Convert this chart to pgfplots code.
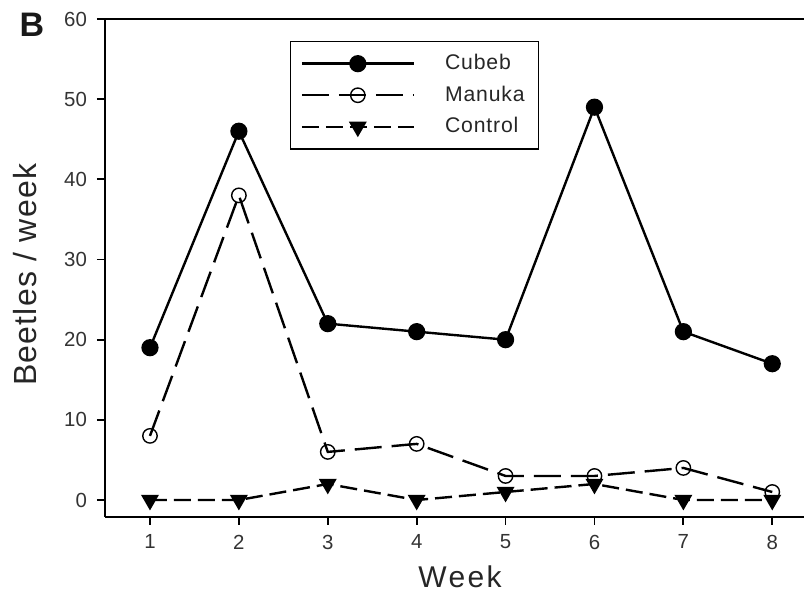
\documentclass[border=0pt]{standalone}
\usepackage{pgfplots}
\pgfplotsset{compat=1.18}
\usepackage{fontspec}
\setmainfont{Liberation Sans}
\setsansfont{Liberation Sans}
\newfontfamily\xlabfont[LetterSpace=8]{Liberation Sans}
\newfontfamily\ylabfont[LetterSpace=4]{Liberation Sans}
\newfontfamily\legfont[LetterSpace=4]{Liberation Sans}
\begin{document}
\begin{tikzpicture}
\begin{axis}[
  at={(0pt,0pt)}, anchor=south west,
  scale only axis, width=349.5pt, height=248.85pt,
  xmin=0.494, xmax=8.357, ymin=-2.08, ymax=60,
  axis x line=bottom, axis y line=left,
  axis line style={-, line width=0.9pt, black},
  xtick={1,2,3,4,5,6,7,8}, ytick={0,10,20,30,40,50,60},
  tick align=outside, major tick length=4pt,
  tick style={line width=0.9pt, black},
  tick label style={font=\fontsize{10.2}{12}\selectfont, text=black!80},
  xticklabel style={yshift=-1.5pt},
  yticklabel style={xshift=-1.5pt},
  /pgf/number format/assume math mode=true,
  xlabel={Week}, ylabel={Beetles / week},
  xlabel style={font=\xlabfont\fontsize{15}{18}\selectfont, text=black!85, at={(rel axis cs:0.508,0)}, anchor=center, yshift=-30pt},
  ylabel style={font=\ylabfont\fontsize{16}{18}\selectfont, text=black!85, at={(rel axis cs:0,0.5)}, anchor=center, xshift=-3.5pt, yshift=40pt},
  clip=false,
  legend style={at={(rel axis cs:0.2647,0.956)}, anchor=north west,
    draw=black, line width=0.6pt, font=\legfont\fontsize{10.6}{12}\selectfont,
    text=black!85,
    inner xsep=5pt, inner ysep=4.5pt, row sep=2.6pt,
    cells={anchor=west}},
  legend image code/.code={\draw[mark repeat=2,mark phase=2,#1] plot coordinates {(0pt,0pt) (28pt,0pt) (56pt,0pt)}; \path (69pt,0pt);},
]
\addplot[black, line width=1.2pt, mark=*, mark size=3.7pt, mark options={solid}]
  coordinates {(1,19) (2,46) (3,22) (4,21) (5,20) (6,49) (7,21) (8,17)};
\addlegendentry{Cubeb}
\addplot[black, line width=1.2pt, dash pattern=on 13.5pt off 5pt, mark=o, mark size=3.6pt, mark options={solid, fill=white, line width=0.7pt}]
  coordinates {(1,8) (2,38) (3,6) (4,7) (5,3) (6,3) (7,4) (8,1)};
\addlegendentry{Manuka}
\addplot[black, line width=1.2pt, dash pattern=on 8.5pt off 3.5pt, mark=triangle*, mark size=4pt, mark options={solid, rotate=180}]
  coordinates {(1,0) (2,0) (3,2) (4,0) (5,1) (6,2) (7,0) (8,0)};
\addlegendentry{Control}
\draw[line width=0.9pt, black] (rel axis cs:0,1) -- (rel axis cs:1,1);
\end{axis}
\node[font=\bfseries\fontsize{17}{17}\selectfont, text=black!90] at (-36.5pt,245.9pt) {B};
\pgfresetboundingbox
\useasboundingbox (-52.5pt,-37.65pt) rectangle (349.5pt,258.35pt);
\end{tikzpicture}
\end{document}
